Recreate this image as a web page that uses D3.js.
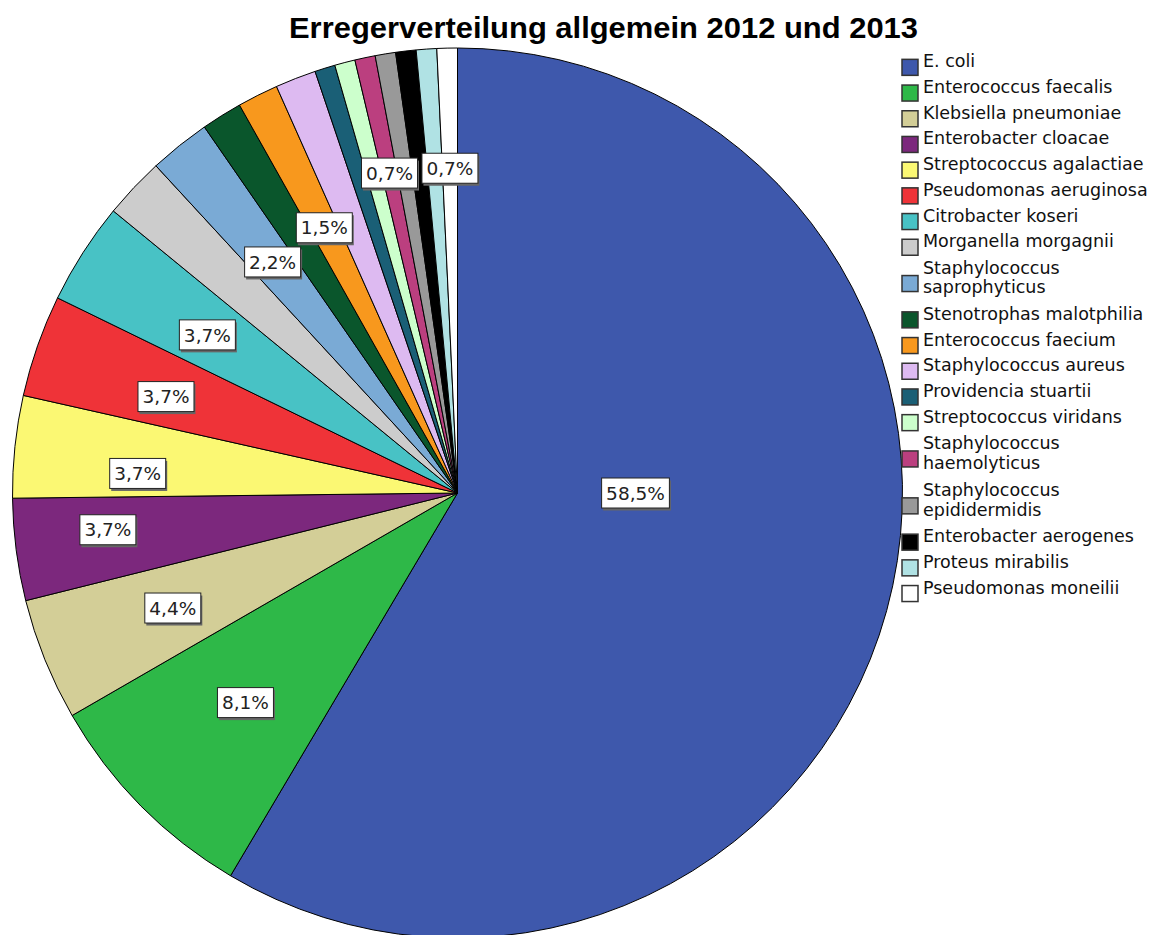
<!DOCTYPE html>
<meta charset="utf-8">
<style>
body { margin: 0; background: #fff; }
svg { display: block; }
.title { font: bold 30px "Liberation Sans", Arial, sans-serif; }
.legend text { font: 17.5px "DejaVu Sans", sans-serif; fill: #111; }
.lbl text { font: 18.5px "DejaVu Sans", sans-serif; fill: #222; }
</style>
<body>
<script src="https://cdnjs.cloudflare.com/ajax/libs/d3/7.8.5/d3.min.js"></script>
<script>

var width = 1172,
    height = 935,
    cx = 457.5,
    cy = 493,
    radius = 445;

// Erreger, Anzahl (n = 135)
var organisms = [
  "E. coli", "Enterococcus faecalis", "Klebsiella pneumoniae", "Enterobacter cloacae",
  "Streptococcus agalactiae", "Pseudomonas aeruginosa", "Citrobacter koseri",
  "Morganella morgagnii", "Staphylococcus saprophyticus", "Stenotrophas malotphilia",
  "Enterococcus faecium", "Staphylococcus aureus", "Providencia stuartii",
  "Streptococcus viridans", "Staphylococcus haemolyticus", "Staphylococcus epididermidis",
  "Enterobacter aerogenes", "Proteus mirabilis", "Pseudomonas moneilii"
];
var counts = [79, 11, 6, 5, 5, 5, 5, 3, 3, 2, 2, 2, 1, 1, 1, 1, 1, 1, 1];
var colors = [
  "#3e58ac", "#2eb848", "#d3ce97", "#7c287d", "#fbf873", "#ef3338", "#48c2c5",
  "#cccccc", "#7aaad5", "#0a562c", "#f8981d", "#ddbaf1", "#1a5f76", "#ccffcc",
  "#bb3f7f", "#999999", "#000000", "#b0e2e4", "#ffffff"
];

// which slices carry a percent label (others hidden by overlap), with radius factor / angle override
var labelSpots = {
  "E. coli": { k: 0.40, a: 90 },
  "Enterococcus faecalis": { k: 0.67 },
  "Klebsiella pneumoniae": { k: 0.69 },
  "Enterobacter cloacae": { k: 0.79, a: 264 },
  "Streptococcus agalactiae": { k: 0.72, a: 273.5 },
  "Pseudomonas aeruginosa": { k: 0.69, a: 288.3 },
  "Citrobacter koseri": { k: 0.665, a: 302.3 },
  "Staphylococcus saprophyticus": { k: 0.665 },
  "Enterococcus faecium": { k: 0.667 },
  "Staphylococcus haemolyticus": { k: 0.735 },
  "Pseudomonas moneilii": { k: 0.73 }
};

var data = organisms.map(function(d, i) { return { name: d, n: counts[i], color: colors[i] }; });
var total = d3.sum(counts);

var svg = d3.select("body").append("svg")
    .attr("width", width)
    .attr("height", height);

svg.append("text")
    .attr("class", "title")
    .attr("x", 603.5)
    .attr("y", 38)
    .attr("text-anchor", "middle")
    .attr("textLength", 629)
    .attr("lengthAdjust", "spacingAndGlyphs")
    .text("Erregerverteilung allgemein 2012 und 2013");

var pie = d3.pie()
    .sort(null)
    .value(function(d) { return d.n; });

var arc = d3.arc()
    .innerRadius(0)
    .outerRadius(radius);

var g = svg.append("g")
    .attr("transform", "translate(" + cx + "," + cy + ")");

var arcs = pie(data);

g.selectAll("path")
    .data(arcs)
  .enter().append("path")
    .attr("d", arc)
    .attr("fill", function(d) { return d.data.color; })
    .attr("stroke", "#000")
    .attr("stroke-width", 1)
    .attr("stroke-linejoin", "round");

var fmt = function(v) { return (Math.round(v * 1000) / 10).toFixed(1).replace(".", ",") + "%"; };

var lbl = g.selectAll(".lbl")
    .data(arcs.filter(function(d) { return labelSpots[d.data.name]; }))
  .enter().append("g")
    .attr("class", "lbl")
    .attr("transform", function(d) {
      var s = labelSpots[d.data.name],
          r = s.k * radius,
          a = s.a != null ? s.a * Math.PI / 180 : (d.startAngle + d.endAngle) / 2;
      var p = d3.arc().innerRadius(r).outerRadius(r).centroid({ startAngle: a, endAngle: a });
      return "translate(" + p[0] + "," + p[1] + ")";
    });

lbl.each(function(d) {
  var sel = d3.select(this);
  var t = sel.append("text")
      .attr("text-anchor", "middle")
      .attr("dy", "0.36em")
      .text(fmt(d.data.n / total));
  var w = t.node().getComputedTextLength() + 9,
      h = 30;
  sel.insert("rect", "text")
      .attr("x", -w / 2 + 1.5)
      .attr("y", -h / 2 + 2.5)
      .attr("width", w)
      .attr("height", h)
      .attr("fill", "#666");
  sel.insert("rect", "text")
      .attr("x", -w / 2)
      .attr("y", -h / 2)
      .attr("width", w)
      .attr("height", h)
      .attr("fill", "#fff")
      .attr("stroke", "#222")
      .attr("stroke-width", 1);
});

// legend
var rowH = 25.7, lineH = 19.5, legendTop = 54.5, wrapAt = 24;
var lines = organisms.map(function(name) {
  if (name.length <= wrapAt) return [name];
  var i = name.indexOf(" ");
  return [name.slice(0, i), name.slice(i + 1)];
});
var y = legendTop, rows = [];
lines.forEach(function(l) {
  var h = rowH + (l.length - 1) * 21.2;
  rows.push({ lines: l, cy: y + h / 2 });
  y += h;
});

var leg = svg.append("g")
    .attr("class", "legend")
    .selectAll("g")
    .data(rows)
  .enter().append("g")
    .attr("transform", function(d) { return "translate(902," + d.cy + ")"; });

leg.append("rect")
    .attr("x", 0)
    .attr("y", -8)
    .attr("width", 16)
    .attr("height", 16)
    .attr("fill", function(d, i) { return colors[i]; })
    .attr("stroke", "#333")
    .attr("stroke-width", 1.5);

leg.append("text")
    .attr("x", 21)
    .attr("y", function(d) { return -(d.lines.length - 1) * lineH / 2; })
    .attr("dy", "0.36em")
    .selectAll("tspan")
    .data(function(d) { return d.lines; })
  .enter().append("tspan")
    .attr("x", 21)
    .attr("dy", function(d, i) { return i ? lineH : 0; })
    .text(function(d) { return d; });

</script>
</body>
